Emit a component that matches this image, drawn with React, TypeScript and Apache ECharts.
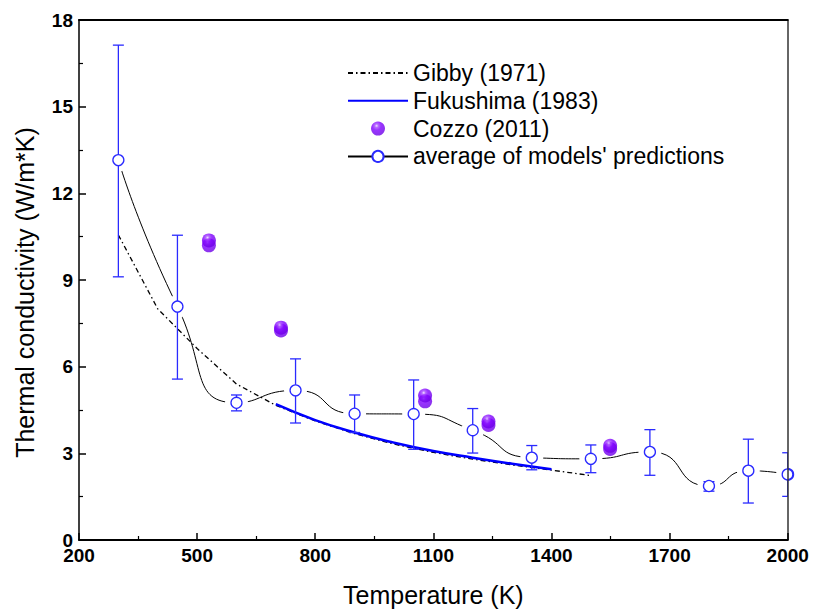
import React, { useEffect, useRef } from "react";
import * as echarts from "echarts";

// ---- Data ----
const avgT = [300, 450, 600, 750, 900, 1050, 1200, 1350, 1500, 1650, 1800, 1900, 2000];
const avgK = [13.15, 8.08, 4.75, 5.18, 4.37, 4.36, 3.8, 2.85, 2.81, 3.05, 1.87, 2.4, 2.27];
const errHigh = [17.13, 10.55, 5.02, 6.27, 5.02, 5.54, 4.55, 3.27, 3.29, 3.82, 2.02, 3.49, 3.02];
const errLow = [9.11, 5.57, 4.47, 4.05, 3.72, 3.14, 3.01, 2.43, 2.33, 2.24, 1.69, 1.28, 1.51];

const gibbyT = [300, 400, 500, 600, 700, 800, 900, 1000, 1100, 1200, 1300, 1400, 1500];
const gibbyK = [10.56, 8.0, 6.63, 5.4, 4.66, 4.12, 3.68, 3.32, 3.03, 2.8, 2.6, 2.42, 2.23];

const fukuT = [700, 800, 900, 1000, 1100, 1200, 1300, 1400];
const fukuK = [4.7, 4.15, 3.72, 3.37, 3.08, 2.85, 2.64, 2.45];

const cozzoT = [530, 530, 713, 713, 1079, 1079, 1240, 1240, 1549, 1549];
const cozzoK = [10.2, 10.37, 7.25, 7.35, 4.8, 5.0, 3.98, 4.1, 3.15, 3.26];

const xTicks = { min: 200, max: 2000, interval: 300 };
const yTicks = { min: 0, max: 18, interval: 3 };

const NAMES = ["Gibby (1971)", "Fukushima (1983)", "Cozzo (2011)", "average of models' predictions"];

const FONT = "'Liberation Sans', Arial, Helvetica, sans-serif";
const BLUE = "#2a2aff";

export default function App() {
  const ref = useRef<HTMLDivElement>(null);

  useEffect(() => {
    if (!ref.current) return;
    const chart = echarts.init(ref.current, null, { renderer: "svg" });

    const sphere = new echarts.graphic.RadialGradient(0.4, 0.3, 0.7, [
      { offset: 0, color: "#ecdcff" },
      { offset: 0.18, color: "#a646ff" },
      { offset: 0.45, color: "#8000ff" },
      { offset: 1, color: "#6c00e6" },
    ]);

    const avgPts = avgT.map((t, i) => [t, avgK[i]]);
    const errData = avgT.map((t, i) => [t, errLow[i], errHigh[i], avgK[i]]);

    const option: any = {
      animation: false,
      backgroundColor: "#fff",
      grid: { left: 79, right: 25.3, top: 20, bottom: 72 },
      legend: {
        data: [
          { name: NAMES[0], itemStyle: { opacity: 0 } },
          { name: NAMES[1], itemStyle: { opacity: 0 } },
          { name: NAMES[2] },
          { name: NAMES[3] },
        ],
        orient: "vertical",
        left: 347,
        top: 61,
        padding: 0,
        itemWidth: 60,
        itemHeight: 14,
        itemGap: 3.8,
        selectedMode: false,
        textStyle: { fontFamily: FONT, fontSize: 23, lineHeight: 24, color: "#000" },
      },
      xAxis: [
        {
          type: "value",
          position: "bottom",
          ...xTicks,
          name: "Temperature (K)",
          nameLocation: "middle",
          nameGap: 42,
          nameTextStyle: { fontFamily: FONT, fontSize: 25, color: "#000" },
          axisLine: { show: true, onZero: false, lineStyle: { color: "#000", width: 2 } },
          axisTick: { show: true, inside: true, length: 7, lineStyle: { color: "#000", width: 1.5 } },
          minorTick: { show: true, splitNumber: 2, length: 4, lineStyle: { color: "#000", width: 1.2 } },
          axisLabel: {
            fontFamily: FONT, fontSize: 19, fontWeight: "bold", color: "#000", margin: 6,
            formatter: (v: number) => String(v),
          },
          splitLine: { show: false },
          z: 20,
        },
        {
          type: "value",
          position: "top",
          ...xTicks,
          axisLine: { show: true, onZero: false, lineStyle: { color: "#000", width: 2 } },
          axisTick: { show: false },
          axisLabel: { show: false },
          splitLine: { show: false },
          z: 20,
        },
      ],
      yAxis: [
        {
          type: "value",
          position: "left",
          ...yTicks,
          name: "Thermal conductivity (W/m*K)",
          nameLocation: "middle",
          nameGap: 42,
          nameTextStyle: { fontFamily: FONT, fontSize: 25, color: "#000", padding: [0, 25, 0, 0] },
          axisLine: { show: true, onZero: false, lineStyle: { color: "#000", width: 1.5 } },
          axisTick: { show: true, inside: true, length: 7, lineStyle: { color: "#000", width: 1.5 } },
          minorTick: { show: true, splitNumber: 2, length: 4, lineStyle: { color: "#000", width: 1.2 } },
          axisLabel: {
            fontFamily: FONT, fontSize: 19, fontWeight: "bold", color: "#000", margin: 6,
            formatter: (v: number) => String(v),
          },
          splitLine: { show: false },
          z: 20,
        },
        {
          type: "value",
          position: "right",
          ...yTicks,
          axisLine: { show: true, onZero: false, lineStyle: { color: "#333", width: 1.5 } },
          axisTick: { show: false },
          axisLabel: { show: false },
          splitLine: { show: false },
          z: 20,
        },
      ],
      series: [
        {
          name: NAMES[3],
          type: "line",
          data: avgPts,
          smooth: 0.6,
          symbol: "emptyCircle",
          symbolSize: 11,
          itemStyle: { color: BLUE, borderWidth: 1.3 },
          lineStyle: { color: "#000", width: 1 },
          z: 2,
        },
        {
          name: "halo",
          type: "custom",
          data: errData,
          encode: { x: 0, y: 3 },
          clip: true,
          silent: true,
          z: 3,
          renderItem: (params: any, api: any) => {
            const p = api.coord([api.value(0), api.value(3)]);
            return { type: "circle", shape: { cx: p[0], cy: p[1], r: 11.5 }, style: { fill: "#ffffff" } };
          },
        },
        {
          name: NAMES[0],
          type: "line",
          data: gibbyT.map((t, i) => [t, gibbyK[i]]),
          symbol: "none",
          smooth: false,
          lineStyle: { color: "#000", width: 1.3, type: [5, 3, 1.5, 3] },
          itemStyle: { color: "#000" },
          z: 4,
        },
        {
          name: NAMES[1],
          type: "line",
          data: fukuT.map((t, i) => [t, fukuK[i]]),
          symbol: "none",
          smooth: true,
          lineStyle: { color: "#0000ff", width: 2.5 },
          itemStyle: { color: "#0000ff" },
          z: 4,
        },
        {
          name: "error",
          type: "custom",
          data: errData,
          encode: { x: 0, y: [1, 2] },
          clip: true,
          silent: true,
          z: 5,
          renderItem: (params: any, api: any) => {
            const x = api.value(0);
            const lo = api.coord([x, api.value(1)]);
            const hi = api.coord([x, api.value(2)]);
            const c = api.coord([x, api.value(3)]);
            const w = 5.5;
            const style = { stroke: BLUE, lineWidth: 1.3 };
            return {
              type: "group",
              children: [
                { type: "line", shape: { x1: lo[0], y1: lo[1], x2: hi[0], y2: hi[1] }, style },
                { type: "line", shape: { x1: hi[0] - w, y1: hi[1], x2: hi[0] + w, y2: hi[1] }, style },
                { type: "line", shape: { x1: lo[0] - w, y1: lo[1], x2: lo[0] + w, y2: lo[1] }, style },
                {
                  type: "circle",
                  shape: { cx: c[0], cy: c[1], r: 5.5 },
                  style: { fill: "#ffffff", stroke: BLUE, lineWidth: 1.3 },
                },
              ],
            };
          },
        },
        {
          name: NAMES[2],
          type: "scatter",
          data: cozzoT.map((t, i) => [t, cozzoK[i]]),
          symbol: "circle",
          symbolSize: 14,
          itemStyle: { color: sphere },
          z: 7,
        },
      ],
    };

    chart.setOption(option);
    return () => chart.dispose();
  }, []);

  return (
    <div
      ref={ref}
      style={{ position: "fixed", left: 0, top: 0, width: 813, height: 612, background: "#fff" }}
    />
  );
}
